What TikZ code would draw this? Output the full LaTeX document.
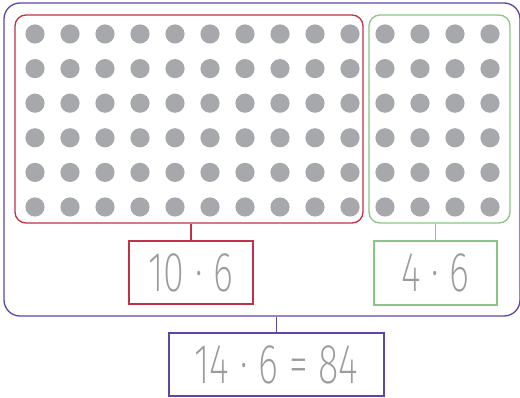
\documentclass[tikz,border=0pt]{standalone}
\usepackage{fontspec}
\setmainfont{Fira Sans}[UprightFont=* ExtraLight,FakeStretch=0.68]
\usepackage{tikz}
\usetikzlibrary{positioning}
\definecolor{tensred}{HTML}{C2304A}
\definecolor{onesgreen}{HTML}{8CC488}
\definecolor{allpurple}{HTML}{5E45A8}
\definecolor{dotgray}{HTML}{A7A8AC}
\definecolor{numgray}{HTML}{9B9B9B}

\begin{document}
\begin{tikzpicture}[x=1pt,y=-1pt,
  group/.style={draw,line width=1.3pt,rounded corners=11pt,inner sep=0pt},
  sumbox/.style={draw,line width=1.3pt,inner sep=0pt,text=numgray,
    font=\fontsize{56}{56}\selectfont},
  link/.style={line width=1.3pt}]
  \useasboundingbox (0,0) rectangle (520,398);
  \node[group,draw=allpurple,rounded corners=16pt,minimum width=516pt,minimum height=313pt] (all) at (262,159.5) {};
  \node[group,draw=tensred,minimum width=348pt,minimum height=208pt] (tens) at (189,119) {};
  \node[group,draw=onesgreen,minimum width=141pt,minimum height=208pt] (ones) at (439.5,119) {};
  \foreach \r in {0,...,5}{
    \foreach \c in {0,...,9}
      \fill[dotgray] (35+35*\c,34+34.6*\r) circle (9.6);
    \foreach \c in {0,...,3}
      \fill[dotgray] (385+35*\c,34+34.6*\r) circle (9.6);
  }
  \node[sumbox,draw=tensred,minimum width=124pt,minimum height=63pt] (tenslbl) at (191,272.5) {10 · 6};
  \node[sumbox,draw=onesgreen,minimum width=123pt,minimum height=64pt] (oneslbl) at (435.5,273) {4 · 6};
  \node[sumbox,draw=allpurple,minimum width=215pt,minimum height=63pt] (alllbl) at (276.5,364.5) {14 · 6 = 84};
  \draw[link,tensred] (tenslbl.north) -- (tenslbl.north |- tens.south);
  \draw[link,onesgreen] (oneslbl.north) -- (oneslbl.north |- ones.south);
  \draw[link,allpurple] (alllbl.north) -- (alllbl.north |- all.south);
\end{tikzpicture}
\end{document}
